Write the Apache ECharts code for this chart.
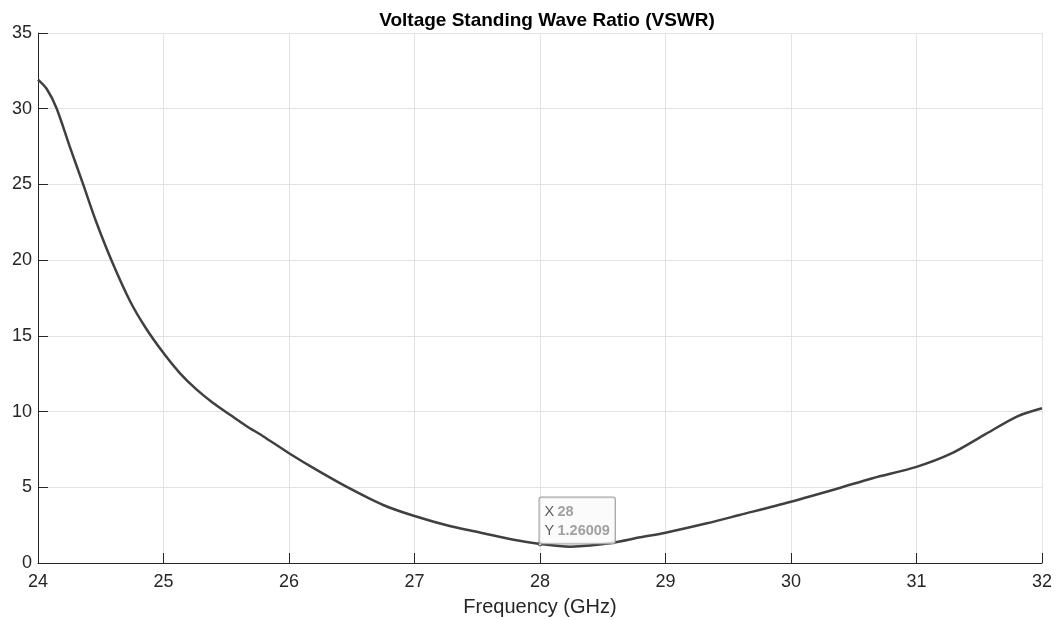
<!DOCTYPE html>
<html>
<head>
<meta charset="utf-8">
<script src="https://cdn.jsdelivr.net/npm/echarts@6/dist/echarts.min.js"></script>
<style>html,body{margin:0;padding:0;background:#fff}#c{width:1062px;height:620px}</style>
</head>
<body>
<div id="c"></div>
<script>
var titleText = 'Voltage Standing Wave Ratio (VSWR)';
var xName = 'Frequency (GHz)';
var freq = [24.0, 24.07, 24.147, 24.253, 24.36, 24.465, 24.585, 24.735, 24.86, 25.0, 25.13, 25.26, 25.39, 25.53, 25.66, 25.79, 26.0, 26.22, 26.48, 26.75, 27.0, 27.28, 27.52, 27.78, 28.0, 28.24, 28.4, 28.58, 28.8, 29.0, 29.33, 29.59, 30.0, 30.38, 30.65, 31.0, 31.27, 31.54, 31.8, 32.0];
var vswr = [31.92, 31.3, 30.05, 27.5, 25.0, 22.5, 20.0, 17.27, 15.5, 13.86, 12.54, 11.48, 10.6, 9.79, 9.05, 8.39, 7.25, 6.15, 4.94, 3.83, 3.1, 2.44, 2.02, 1.55, 1.26, 1.08, 1.15, 1.34, 1.70, 2.0, 2.62, 3.17, 4.05, 4.94, 5.6, 6.35, 7.2, 8.46, 9.67, 10.22];
var tipX = 28;
var tipY = 1.26009;

var data = freq.map(function (f, i) { return [f, vswr[i]]; });
var chart = echarts.init(document.getElementById('c'));
var axisColor = '#262626';
var font = '"Liberation Sans", Arial, Helvetica, sans-serif';
chart.setOption({
  animation: false,
  title: {
    text: titleText, left: 542, top: 6, textAlign: 'center',
    textStyle: { fontFamily: font, fontSize: 19, fontWeight: 'bold', color: '#000' }
  },
  grid: { left: 38, right: 20, top: 33, bottom: 57, containLabel: false, outerBoundsMode: 'none' },
  xAxis: {
    type: 'value', min: 24, max: 32, interval: 1,
    name: xName, nameLocation: 'middle', nameGap: 34,
    nameTextStyle: { fontFamily: font, fontSize: 20, color: axisColor },
    axisLine: { show: true, lineStyle: { color: axisColor, width: 1 } },
    axisTick: { show: true, inside: true, length: 10, lineStyle: { color: axisColor } },
    axisLabel: { fontFamily: font, fontSize: 18, color: axisColor, margin: 10 },
    splitLine: { show: true, lineStyle: { color: '#e3e3e3', width: 1 } }
  },
  yAxis: {
    type: 'value', min: 0, max: 35, interval: 5,
    axisLine: { show: true, lineStyle: { color: axisColor, width: 1 } },
    axisTick: { show: true, inside: true, length: 10, lineStyle: { color: axisColor } },
    axisLabel: { fontFamily: font, fontSize: 18, color: axisColor, margin: 6 },
    splitLine: { show: true, lineStyle: { color: '#e3e3e3', width: 1 } }
  },
  series: [
    {
      type: 'line', data: data, smooth: 0.3, showSymbol: false,
      lineStyle: { color: '#404040', width: 2.5 }, z: 3
    },
    {
      type: 'scatter', data: [[tipX, tipY]], symbolSize: 4,
      itemStyle: { color: '#fff', borderColor: '#222', borderWidth: 1 }, z: 5,
      label: {
        show: true, position: [2, 2], align: 'left', verticalAlign: 'bottom',
        formatter: function (p) { return '{k|X} {v|' + p.value[0] + '}\n{k|Y} {v|' + p.value[1] + '}'; },
        backgroundColor: 'rgba(250,250,250,0.92)', borderColor: '#8a8a8a', borderWidth: 1,
        borderRadius: 2, padding: [5, 5, 3, 5],
        rich: {
          k: { fontFamily: font, fontSize: 14.5, color: '#333', lineHeight: 19 },
          v: { fontFamily: font, fontSize: 14.5, color: '#8a8a8a', fontWeight: 'bold', lineHeight: 19 }
        }
      }
    }
  ]
});
</script>
</body>
</html>
